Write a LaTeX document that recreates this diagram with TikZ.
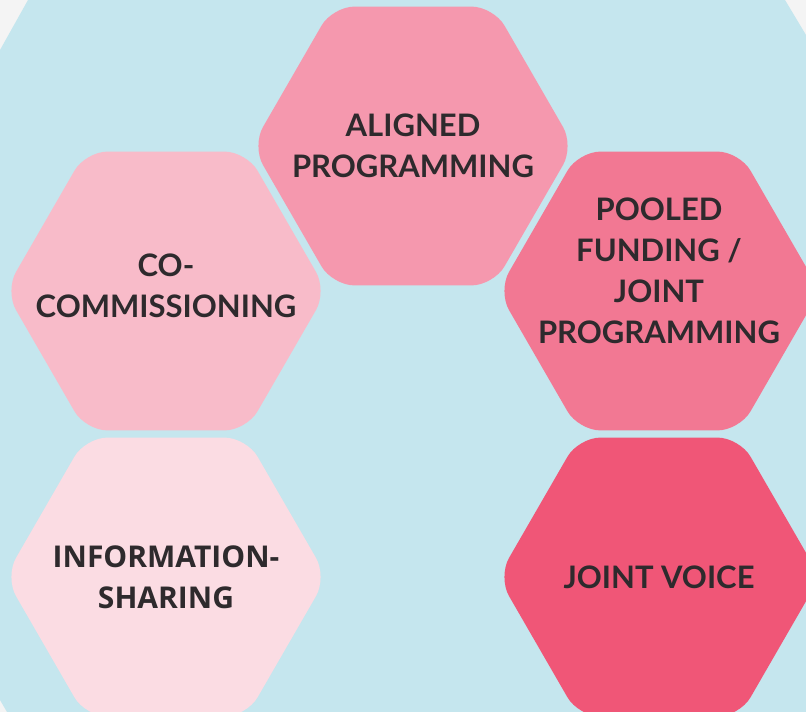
\documentclass[tikz,border=0pt]{standalone}
\usepackage{fontspec}
\usepackage{tikz}
\usetikzlibrary{
  shapes.geometric,
  positioning
}
\newfontfamily\cellfont{Lato}
\newfontfamily\cellfontalt{Open Sans}
\definecolor{PageGray}{RGB}{244,244,244}
\definecolor{BackBlue}{RGB}{197,230,238}
\definecolor{InkDark}{RGB}{46,42,45}
\definecolor{PinkPale}{RGB}{251,220,227}
\definecolor{PinkLight}{RGB}{248,187,201}
\definecolor{PinkMid}{RGB}{245,152,174}
\definecolor{PinkStrong}{RGB}{242,120,147}
\definecolor{PinkDeep}{RGB}{240,86,119}
\tikzset{
  hexcell/.style={regular polygon,regular polygon sides=6,minimum size=322pt,inner sep=0pt,rounded corners=22pt,draw=none},
  celltext/.style={align=center,text=InkDark,inner sep=0pt,font=\cellfont\bfseries\fontsize{31}{41}\selectfont},
  celltextalt/.style={celltext,font=\cellfontalt\bfseries\fontsize{30}{41}\selectfont}
}

\begin{document}
\begin{tikzpicture}[x=1pt,y=-1pt]
\useasboundingbox (0,0) rectangle (806,712);
\fill[PageGray] (0,0) rectangle (806,712);
\fill[BackBlue] (28,0) -- (785,0) -- (806,35) -- (806,712) -- (7,712) -- (0,700) -- (0,50) -- cycle;
% honeycomb cells
\node[hexcell, fill=PinkMid] (aligned) at (413,146) {};
\node[hexcell, fill=PinkLight] (cocomm) at (166,291) {};
\node[hexcell, fill=PinkStrong] (pooled) at (659,291) {};
\node[hexcell, fill=PinkPale] (infoshare) at (166,577) {};
\node[hexcell, fill=PinkDeep] (voice) at (659,577) {};
% labels
\node[celltext] (alignedtext) at (aligned) {ALIGNED\\PROGRAMMING};
\node[celltext] (cocommtext) at ([yshift=5pt]cocomm.center) {CO-\\COMMISSIONING};
\node[celltext] (pooledtext) at ([yshift=20pt]pooled.center) {POOLED\\FUNDING /\\JOINT\\PROGRAMMING};
\node[celltextalt] (infosharetext) at (infoshare) {INFORMATION-\\SHARING};
\node[celltext] (voicetext) at (voice) {JOINT VOICE};
\end{tikzpicture}
\end{document}
